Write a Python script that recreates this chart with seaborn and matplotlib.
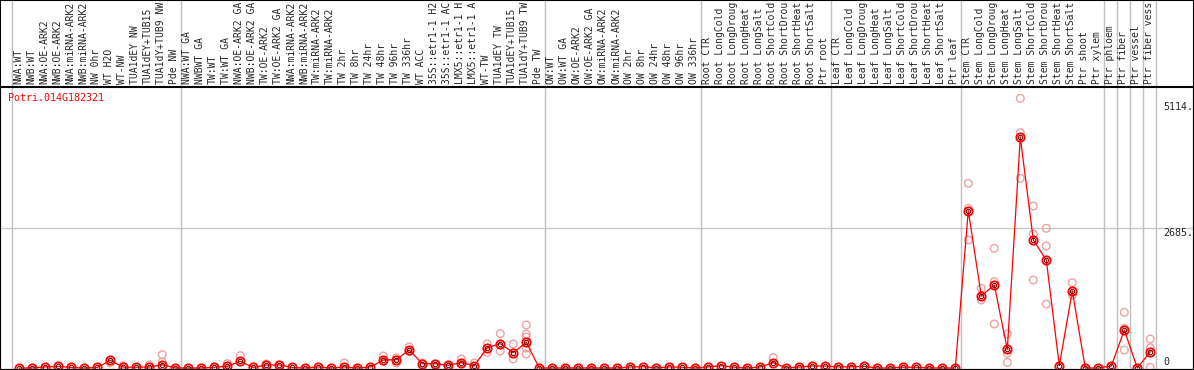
import matplotlib
matplotlib.use("Agg")
import matplotlib.pyplot as plt
import matplotlib.transforms as mt
from matplotlib.patches import Rectangle
import numpy as np
import pandas as pd
import seaborn as sns

sns.set_style("white")
plt.rcParams["font.family"] = ["DejaVu Sans Mono", "DejaVu Sans"]

gene = "Potri.014G182321"

# sample names as they show in the header (cut at 14 characters)
labels = [
    "NWA:WT", "NWB:WT", "NWA:OE-ARK2", "NWB:OE-ARK2", "NWA:miRNA-ARK2",
    "NWB:miRNA-ARK2", "NW 0hr", "WT H2O", "WT-NW", "TUA1dEY NW",
    "TUA1dEY+TUB15", "TUA1dY+TUB9 NW", "Pde NW",
    "NWA:WT GA", "NWBWT GA", "TW:WT", "TW:WT GA", "NWA:OE-ARK2 GA",
    "NWB:OE-ARK2 GA", "TW:OE-ARK2", "TW:OE-ARK2 GA", "NWA:miRNA-ARK2",
    "NWB:miRNA-ARK2", "TW:miRNA-ARK2", "TW:miRNA-ARK2", "TW 2hr", "TW 8hr",
    "TW 24hr", "TW 48hr", "TW 96hr", "TW 336hr", "WT ACC",
    "35S::etr1-1 H2", "35S::etr1-1 AC", "LMX5::etr1-1 H",
    "LMX5::etr1-1 A", "WT-TW", "TUA1dEY TW", "TUA1dEY+TUB15",
    "TUA1dY+TUB9 TW", "Pde TW",
    "OW:WT", "OW:WT GA", "OW:OE-ARK2", "OW:OE-ARK2 GA", "OW:miRNA-ARK2",
    "OW:miRNA-ARK2", "OW 2hr", "OW 8hr", "OW 24hr", "OW 48hr", "OW 96hr",
    "OW 336hr",
    "Root CTR", "Root LongCold", "Root LongDroug", "Root LongHeat",
    "Root LongSalt", "Root ShortCold", "Root ShortDrou", "Root ShortHeat",
    "Root ShortSalt", "Ptr root",
    "Leaf CTR", "Leaf LongCold", "Leaf LongDroug", "Leaf LongHeat",
    "Leaf LongSalt", "Leaf ShortCold", "Leaf ShortDrou", "Leaf ShortHeat",
    "Leaf ShortSalt", "Ptr leaf",
    "Stem CTR", "Stem LongCold", "Stem LongDroug", "Stem LongHeat",
    "Stem LongSalt", "Stem ShortCold", "Stem ShortDrou", "Stem ShortHeat",
    "Stem ShortSalt", "Ptr shoot", "Ptr xylem",
    "Ptr phloem", "Ptr fiber", "Ptr vessel", "Ptr fiber vess",
]

means = [
    0, 0, 20, 30, 10, 0, 10, 147, 15, 15, 20, 64, 0,
    0, 0, 15, 32, 128, 10, 58, 58, 10, 0, 20, 0, 20, 0, 20, 153, 160, 345,
    83, 83, 51, 102, 45, 390, 467, 294, 492, 0,
    0, 0, 0, 0, 0, 0, 20, 25, 0, 20, 15, 0,
    20, 45, 15, 0, 20, 102, 0, 20, 38, 38,
    20, 25, 32, 0, 0, 15, 15, 0, 0, 0,
    3017, 1381, 1592, 358, 4424, 2455, 2071, 45, 1477, 0, 0,
    38, 729, 0, 313,
]

# replicate samples that stand apart from the mean
replicates = {
    7: [100], 8: [45], 10: [58], 11: [256, 115], 16: [83], 17: [237],
    19: [77], 20: [58], 25: [96], 28: [230, 128], 29: [192, 96],
    30: [403, 319], 31: [96], 32: [70], 33: [32], 34: [173, 83], 35: [96],
    36: [460, 300], 37: [658, 326], 38: [460, 173],
    39: [825, 652, 595, 384, 268], 58: [198],
    73: [3542, 3062, 2455], 74: [1528, 1304], 75: [2295, 1656, 844],
    76: [652, 281, 109], 77: [5172, 4513, 3638], 78: [3107, 2570, 1688],
    79: [2679, 2340, 1227], 81: [1637, 1400], 85: [1068, 761, 345],
    87: [556, 390, 13],
}

group_starts = [0, 13, 41, 53, 63, 73, 84, 85, 86, 87, 88]
ytick_values = [5114, 2685, 0]
ytick_labels = ["5114.", "2685.", "0"]

df = pd.DataFrame({"idx": np.arange(len(means)), "mean": means})
rep = pd.DataFrame(
    [(k, v) for k, vals in replicates.items() for v in vals],
    columns=["idx", "value"],
)

W, H = 1194, 370
fig = plt.figure(figsize=(W / 100, H / 100), dpi=100)
top_px = 87
ax = fig.add_axes([0, 0, 1, (H - top_px) / H])

px_per_unit = 13.0
x0 = 19.3
ax.set_xlim(-x0 / px_per_unit, (W - x0) / px_per_unit)
vpp = 2685 / 140.0
ax.set_ylim(-2 * vpp, (368 - top_px) * vpp)

pink = "#f0a0a0"
ax.axhline(2685, color="#c8c8c8", lw=1, zorder=0.5)

trans = mt.blended_transform_factory(ax.transData, ax.transAxes)
ax.vlines([g - 0.6 for g in group_starts], 0, H / (H - top_px),
          transform=trans, color="#c0c0c0", lw=1, clip_on=False, zorder=0.6)

sns.scatterplot(data=rep, x="idx", y="value", ax=ax, color=pink,
                facecolors="none", edgecolor=pink, linewidth=1, s=30,
                marker="o", zorder=2, legend=False)
sns.lineplot(data=df, x="idx", y="mean", ax=ax, color="red", lw=0.9,
             marker="o", ms=6, mfc="none", mec="red", mew=1.3, zorder=3)
sns.lineplot(data=df, x="idx", y="mean", ax=ax, color="#600000",
             linestyle="none", marker="o", ms=3.2, mfc="none",
             mec="#600000", mew=0.7, zorder=4)

ax.set_xticks([])
ax.set_yticks([])
ax.set_xlabel("")
ax.set_ylabel("")
for s in ax.spines.values():
    s.set_color("black")
    s.set_linewidth(1.5)

for i, lab in enumerate(labels):
    ax.text(i - 0.1, 1 + 3 / (H - top_px), lab, rotation=90, ha="center",
            va="bottom", fontsize=7.0, transform=trans, clip_on=False)

ytrans = mt.blended_transform_factory(ax.transAxes, ax.transData)
ytick_pos = [5006, 2595, 121]
for v, t, p in zip(ytick_values, ytick_labels, ytick_pos):
    ax.text(1163 / W, p, t, ha="left", va="center", fontsize=7.2,
            transform=ytrans)

fig.text(8 / W, 1 - 98 / H, gene, color="red", ha="left", va="center",
         fontsize=7.2)
fig.add_artist(Rectangle((0, 0), 1, 1, transform=fig.transFigure,
                         fill=False, ec="black", lw=1.5))

fig.savefig("out.png", dpi=100)
